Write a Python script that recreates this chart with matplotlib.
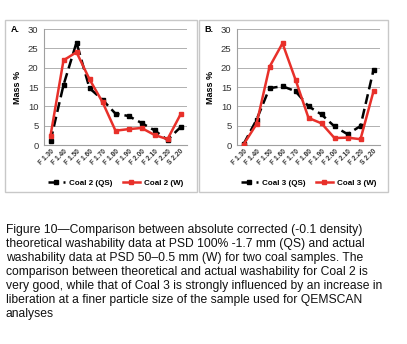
import matplotlib
matplotlib.use("Agg")
import matplotlib.pyplot as plt
from matplotlib.patches import Rectangle

# density fractions (x categories)
fractions = ["F 1.30", "F 1.40", "F 1.50", "F 1.60", "F 1.70", "F 1.80",
             "F 1.90", "F 2.00", "F 2.10", "F 2.20", "S 2.20"]

# Mass %
coal2_qs = [1.0, 15.5, 26.5, 14.7, 11.7, 8.1, 7.5, 5.7, 3.8, 1.3, 4.6]
coal2_w = [2.4, 21.9, 24.0, 17.0, 11.1, 3.7, 4.1, 4.4, 2.6, 1.5, 7.9]
coal3_qs = [0.2, 6.5, 14.7, 15.2, 13.9, 10.0, 7.9, 4.8, 2.8, 4.9, 19.4]
coal3_w = [0.1, 5.4, 20.2, 26.3, 16.9, 7.0, 5.6, 1.8, 1.9, 1.5, 13.9]

caption = ("Figure 10\u2014Comparison between absolute corrected (-0.1 density)\n"
           "theoretical washability data at PSD 100% -1.7 mm (QS) and actual\n"
           "washability data at PSD 50\u20130.5 mm (W) for two coal samples. The\n"
           "comparison between theoretical and actual washability for Coal 2 is\n"
           "very good, while that of Coal 3 is strongly influenced by an increase in\n"
           "liberation at a finer particle size of the sample used for QEMSCAN\n"
           "analyses")

W, H = 407, 344
RED = "#e8302a"
plt.rcParams["font.family"] = ["Liberation Sans", "DejaVu Sans"]

fig = plt.figure(figsize=(W / 100, H / 100), dpi=100)


def px_box(x0, y0, x1, y1):
    # pixel box (top-left origin) -> figure fraction [left, bottom, width, height]
    return [x0 / W, 1 - y1 / H, (x1 - x0) / W, (y1 - y0) / H]


# panel borders
for bx0, bx1 in [(5, 197), (199, 388)]:
    fig.patches.append(Rectangle((bx0 / W, 1 - 192 / H), (bx1 - bx0) / W, 172 / H,
                                 transform=fig.transFigure, fill=False,
                                 edgecolor="#c8c8c8", linewidth=1.0))


def panel(box, qs, w, name, letter, lx):
    ax = fig.add_axes(px_box(*box))
    x = list(range(len(fractions)))
    ax.plot(x, qs, color="black", linestyle=(0, (4, 2)), linewidth=1.8,
            marker="s", markersize=3.5, label=f"{name} (QS)", zorder=3)
    ax.plot(x, w, color=RED, linewidth=1.8, marker="s", markersize=3.5,
            label=f"{name} (W)", zorder=4)
    ax.set_xlim(-0.5, 10.5)
    ax.set_ylim(0, 30)
    ax.set_yticks(range(0, 31, 5))
    ax.set_xticks(x)
    ax.set_xticklabels(fractions, rotation=45, ha="right", rotation_mode="anchor",
                       fontsize=4.8, fontweight="bold", color="#333333")
    ax.tick_params(axis="y", labelsize=6.8, length=0, pad=4, labelcolor="#333333")
    ax.tick_params(axis="x", length=0, pad=2)
    ax.grid(axis="y", color="#b0b0b0", linewidth=0.7)
    ax.set_axisbelow(True)
    for s in ["top", "right"]:
        ax.spines[s].set_visible(False)
    ax.spines["left"].set_color("#a0a0a0")
    ax.spines["bottom"].set_color("#a0a0a0")
    ax.set_ylabel("Mass %", fontsize=6.5, fontweight="bold", labelpad=4)
    fig.text(lx / W, 1 - 30 / H, letter, fontsize=6.5, fontweight="bold",
             va="center", ha="left")
    ax.legend(loc="center", bbox_to_anchor=(0.5, -0.33), ncol=2, frameon=False,
              prop={"weight": "bold", "size": 5.8},
              handlelength=2.1, columnspacing=1.3, handletextpad=0.5)
    return ax


panel((44, 29, 187, 145), coal2_qs, coal2_w, "Coal 2", "A.", 11)
panel((237, 29, 380, 145), coal3_qs, coal3_w, "Coal 3", "B.", 204)

fig.text(6 / W, 1 - 224 / H, caption, fontsize=8.7, va="top", ha="left",
         linespacing=1.23, color="#111111")

fig.savefig("out.png", dpi=100)
